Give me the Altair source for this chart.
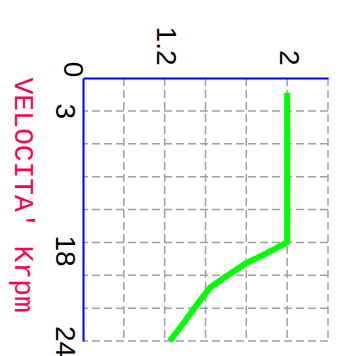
import altair as alt
import pandas as pd

# Green curve, in grid divisions (x: speed axis along top, y: time axis downwards)
line_x = [5.0, 5.0, 4.5, 4.0, 3.5, 3.1, 2.8, 2.5, 2.13]
line_y = [0.45, 5.0, 5.33, 5.63, 6.04, 6.39, 6.88, 7.39, 8.0]

# Tick labels and where they sit (in grid divisions)
x_tick_pos = [2, 5]
x_tick_labels = ["1.2", "2"]
y_tick_pos = [0, 1, 5.25, 8]
y_tick_labels = ["0", "3", "18", "24"]

# Dashed grid lines
x_grid = [1, 2, 3, 4, 5, 6]
y_grid = [1, 2, 3, 4, 5, 6, 7, 8]

axis_title = "VELOCITA'  Krpm"

W, H = 245, 263


def label_expr(pos, labels):
    pairs = ", ".join(f"'{p}': '{l}'" for p, l in zip(pos, labels))
    return "{" + pairs + "}[datum.value]"


x_scale = alt.Scale(domain=[0, 6], nice=False, zero=False)
y_scale = alt.Scale(domain=[0, 8], nice=False, zero=False, reverse=True)

x_axis = alt.Axis(
    orient="top", values=x_tick_pos, labelExpr=label_expr(x_tick_pos, x_tick_labels),
    labelAngle=90, labelAlign="right", labelBaseline="middle", labelPadding=13,
    labelFont="Liberation Sans", labelFontSize=28, labelColor="black",
    grid=False, ticks=False, domainColor="#0000ff", domainWidth=2, title=None, zindex=1,
)
y_axis = alt.Axis(
    orient="left", values=y_tick_pos, labelExpr=label_expr(y_tick_pos, y_tick_labels),
    labelAngle=90, labelAlign="center", labelBaseline="top",
    labelPadding={"condition": {"test": "datum.value === 0", "value": -2}, "value": 6},
    labelOffset={"condition": {"test": "datum.value === 0", "value": -9}, "value": 0},
    labelFont="Liberation Sans", labelFontSize=28, labelColor="black",
    grid=False, ticks=False, domainColor="#0000ff", domainWidth=2, zindex=1,
    title=axis_title, titleAngle=90, titleAlign="left", titleBaseline="top",
    titleX=-47, titleY=-1, titleFont="Liberation Mono", titleFontSize=28,
    titleFontWeight="normal", titleColor="#ff0050",
)

grid_style = dict(color="#a0a0a0", strokeDash=[8, 4], strokeWidth=1.5)

h_grid = alt.Chart(pd.DataFrame({"g": y_grid})).mark_rule(**grid_style).encode(
    y=alt.Y("g:Q", scale=y_scale, axis=y_axis)
)
v_grid = alt.Chart(pd.DataFrame({"g": x_grid})).mark_rule(**grid_style).encode(
    x=alt.X("g:Q", scale=x_scale, axis=x_axis)
)

line_df = pd.DataFrame({"s": line_x, "t": line_y, "o": list(range(len(line_x)))})
line = alt.Chart(line_df).mark_line(color="#00ff00", strokeWidth=6, strokeCap="butt",
                                    strokeJoin="round").encode(
    x=alt.X("s:Q", scale=x_scale, axis=x_axis),
    y=alt.Y("t:Q", scale=y_scale, axis=y_axis),
    order="o:Q",
)

chart = alt.layer(h_grid, v_grid, line).properties(
    width=W, height=H,
    autosize=alt.AutoSizeParams(type="none"),
    padding={"left": 75, "top": 70, "right": 7, "bottom": 15},
).configure_view(stroke=None)

chart.save("out.html", embed_options={"renderer": "svg", "actions": False})
